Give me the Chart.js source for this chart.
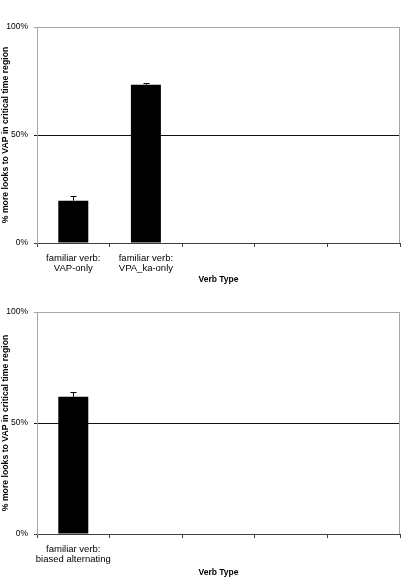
<!DOCTYPE html>
<html>
<head>
<meta charset="utf-8">
<script src="https://cdn.jsdelivr.net/npm/chart.js@4/dist/chart.umd.min.js"></script>
<style>
  body { margin: 0; background: #fff; }
  canvas { display: block; }
</style>
</head>
<body>
<canvas id="chart-top" width="403" height="290"></canvas>
<canvas id="chart-bottom" width="403" height="292"></canvas>
<script>
// data
const categoriesTop = [["familiar verb:", "VAP-only"], ["familiar verb:", "VPA_ka-only"], "", "", ""];
const valuesTop = [19.6, 73.3, null, null, null];
const errorsTop = [2.0, 0.7, null, null, null];

const categoriesBottom = [["familiar verb:", "biased alternating"], "", "", "", ""];
const valuesBottom = [61.8, null, null, null, null];
const errorsBottom = [2.0, null, null, null, null];

const yTickValues = [0, 50, 100];
const yTitle = "% more looks to VAP in critical time region";
const xTitle = "Verb Type";

const FONT = "'Liberation Sans', Arial, sans-serif";

// upper error whisker with a small cap
const errorBars = {
  id: "errorBars",
  afterDatasetsDraw(chart, args, opts) {
    const meta = chart.getDatasetMeta(0);
    const y = chart.scales.y;
    const ctx = chart.ctx;
    ctx.save();
    ctx.strokeStyle = "#000";
    ctx.lineWidth = 1;
    opts.errors.forEach((e, i) => {
      if (e == null || opts.values[i] == null) return;
      const x = Math.round(meta.data[i].x) + 0.5;
      const base = y.getPixelForValue(opts.values[i]);
      const top = Math.round(y.getPixelForValue(opts.values[i] + e)) + 0.5;
      ctx.beginPath();
      ctx.moveTo(x, base);
      ctx.lineTo(x, top);
      ctx.moveTo(x - 3, top);
      ctx.lineTo(x + 3, top);
      ctx.stroke();
    });
    ctx.restore();
  },
};

// right edge of the plot frame
const rightFrame = {
  id: "rightFrame",
  afterDraw(chart) {
    const { ctx, chartArea } = chart;
    const x = Math.round(chartArea.right) - 0.5;
    ctx.save();
    ctx.strokeStyle = "#a6a6a6";
    ctx.lineWidth = 1;
    ctx.beginPath();
    ctx.moveTo(x, chartArea.top);
    ctx.lineTo(x, chartArea.bottom);
    ctx.stroke();
    ctx.restore();
  },
};

function makeChart(id, labels, values, errors, pad, xHeight, xTitlePad) {
  return new Chart(document.getElementById(id), {
    type: "bar",
    data: {
      labels: labels,
      datasets: [{
        data: values,
        backgroundColor: "#000",
        borderWidth: 0,
        categoryPercentage: 1,
        barPercentage: 0.413,
      }],
    },
    plugins: [errorBars, rightFrame],
    options: {
      responsive: false,
      animation: false,
      layout: { padding: pad },
      plugins: {
        legend: { display: false },
        tooltip: { enabled: false },
        errorBars: { values: values, errors: errors },
      },
      scales: {
        x: {
          afterFit: (s) => { s.height = xHeight; },
          grid: {
            drawOnChartArea: false,
            drawTicks: true,
            tickLength: 4,
            color: "#404040",
          },
          border: { color: "#404040" },
          ticks: {
            autoSkip: false,
            maxRotation: 0,
            padding: 6,
            color: "#000",
            font: { family: FONT, size: 9.5, lineHeight: 1.05 },
          },
          title: {
            display: true,
            text: xTitle,
            color: "#000",
            font: { family: FONT, size: 8.5, weight: "bold", lineHeight: 1.2 },
            padding: { top: 0, bottom: xTitlePad },
          },
        },
        y: {
          min: 0,
          max: 100,
          afterFit: (s) => { s.width = 37; },
          afterBuildTicks: (s) => { s.ticks = yTickValues.map((v) => ({ value: v })); },
          grid: {
            tickLength: 3,
            color: (c) => {
              const v = c.tick ? c.tick.value : null;
              if (v === 100) return "#a6a6a6";
              if (v === 0) return "#404040";
              return "#111";
            },
          },
          border: { color: "#a6a6a6" },
          ticks: {
            padding: 6,
            color: "#000",
            font: { family: FONT, size: 8.5 },
            callback: (v) => v + "%",
          },
          title: {
            display: true,
            text: yTitle,
            color: "#000",
            font: { family: FONT, size: 8.7, weight: "bold", lineHeight: 1.2 },
            padding: { top: 0, bottom: 0 },
          },
        },
      },
    },
  });
}

makeChart("chart-top", categoriesTop, valuesTop, errorsTop,
  { top: 27, right: 3, left: 0, bottom: 0 }, 47, 5.6);
makeChart("chart-bottom", categoriesBottom, valuesBottom, errorsBottom,
  { top: 22, right: 3, left: 0, bottom: 0 }, 48, 4.2);
</script>
</body>
</html>
